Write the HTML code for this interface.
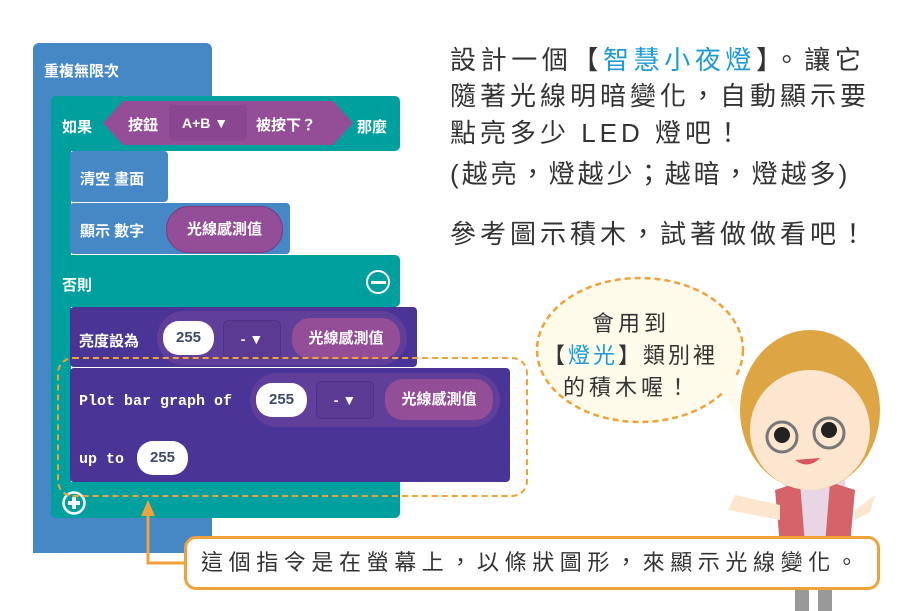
<!DOCTYPE html>
<html><head><meta charset="utf-8"><style>
body{margin:0;width:916px;height:611px;position:relative;background:#fff;overflow:hidden;font-family:"Liberation Sans","Noto Sans CJK TC",sans-serif}
.a{position:absolute}
.w{color:#fff;font-weight:bold;font-size:15px}
.pill{position:absolute;border-radius:18px;color:#fff;font-weight:bold;font-size:15px;text-align:center}
.num{position:absolute;background:#fff;border-radius:16px;color:#3d4a6b;font-weight:bold;font-size:15px;text-align:center}
.t{position:absolute;color:#333;font-size:26px;letter-spacing:4px;white-space:nowrap}
.mono{font-family:"Liberation Mono",monospace;font-weight:bold;font-size:15px;color:#fff}
</style></head><body>
<div class="a" style="left:33px;top:43px;width:179px;height:55px;background:#4687c6;border-radius:6px 6px 0 0"></div>
<div class="a" style="left:33px;top:90px;width:20px;height:463px;background:#4687c6"></div>
<div class="a" style="left:33px;top:515px;width:179px;height:38px;background:#4687c6;border-radius:0 0 4px 4px"></div>
<div class="a w" style="left:44px;top:60px">重複無限次</div>
<div class="a" style="left:51px;top:96px;width:349px;height:55px;background:#00a09e;border-radius:5px"></div>
<div class="a" style="left:51px;top:140px;width:20px;height:370px;background:#00a09e"></div>
<div class="a" style="left:51px;top:255px;width:349px;height:52px;background:#00a09e;border-radius:5px"></div>
<div class="a" style="left:51px;top:482px;width:349px;height:36px;background:#00a09e;border-radius:0 0 5px 5px"></div>
<div class="a w" style="left:62px;top:116px">如果</div>
<svg class="a" style="left:103px;top:100px" width="250" height="46"><polygon points="0,23 20,1 230,1 250,23 230,45 20,45" fill="#944e97"/><rect x="66" y="5" width="78" height="36" rx="5" fill="#8a4690"/></svg>
<div class="a w" style="left:128px;top:114px">按鈕</div>
<div class="a w" style="left:182px;top:115px;font-size:14px">A+B ▼</div>
<div class="a w" style="left:256px;top:114px">被按下？</div>
<div class="a w" style="left:357px;top:116px">那麼</div>
<div class="a" style="left:70px;top:151px;width:98px;height:51px;background:#4687c6;border-radius:4px"></div>
<div class="a w" style="left:80px;top:168px">清空 畫面</div>
<div class="a" style="left:70px;top:203px;width:220px;height:51px;background:#4687c6;border-radius:4px"></div>
<div class="a w" style="left:80px;top:220px">顯示 數字</div>
<div class="pill" style="left:166px;top:206px;width:115px;height:45px;line-height:45px;background:#944e97;border:1px solid #7d3a80;border-radius:23px">光線感測值</div>
<div class="a w" style="left:62px;top:274px">否則</div>
<div class="a" style="left:366px;top:270px;width:20px;height:20px;border:2.5px solid #fff;border-radius:50%"></div>
<div class="a" style="left:371px;top:281px;width:15px;height:3px;background:#fff"></div>
<div class="a" style="left:70px;top:307px;width:347px;height:60px;background:#4a3596;border-radius:4px"></div>
<div class="a" style="left:157px;top:311px;width:250px;height:54px;background:#5f3f9a;border-radius:27px"></div>
<div class="a w" style="left:79px;top:330px">亮度設為</div>
<div class="num" style="left:163px;top:321px;width:51px;height:34px;line-height:34px">255</div>
<div class="a" style="left:223px;top:320px;width:56px;height:36px;background:#5a3a92;border:1px solid #4d3285;border-radius:5px;color:#fff;font-weight:bold;text-align:center;line-height:36px;font-size:14px">- ▼</div>
<div class="pill" style="left:292px;top:318px;width:108px;height:41px;line-height:41px;background:#944e97">光線感測值</div>
<div class="a" style="left:70px;top:368px;width:440px;height:114px;background:#4a3596;border-radius:4px"></div>
<div class="a" style="left:250px;top:373px;width:250px;height:54px;background:#5f3f9a;border-radius:27px"></div>
<div class="a mono" style="left:79px;top:393px">Plot bar graph of</div>
<div class="num" style="left:256px;top:383px;width:51px;height:34px;line-height:34px">255</div>
<div class="a" style="left:316px;top:381px;width:56px;height:36px;background:#5a3a92;border:1px solid #4d3285;border-radius:5px;color:#fff;font-weight:bold;text-align:center;line-height:36px;font-size:14px">- ▼</div>
<div class="pill" style="left:385px;top:379px;width:108px;height:41px;line-height:41px;background:#944e97">光線感測值</div>
<div class="a mono" style="left:79px;top:451px">up to</div>
<div class="num" style="left:137px;top:441px;width:51px;height:34px;line-height:34px">255</div>
<svg class="a" style="left:61px;top:490px" width="26" height="26"><circle cx="13" cy="13" r="10.5" fill="none" stroke="#fff" stroke-width="2.5"/><rect x="7" y="11" width="12" height="4" fill="#fff"/><rect x="11" y="7" width="4" height="12" fill="#fff"/></svg>
<div class="a" style="left:57px;top:357px;width:467px;height:136px;border:2.5px dashed #f0a23a;border-radius:16px"></div>
<svg class="a" style="left:0;top:0" width="916" height="611">
<polyline points="148,508 148,563 186,563" fill="none" stroke="#f0a23a" stroke-width="3"/>
<polygon points="141,516 148,500 155,516" fill="#f0a23a"/>
<ellipse cx="640" cy="350" rx="103" ry="72" fill="#fffbea" stroke="#f0a23a" stroke-width="2.5" stroke-dasharray="6,4"/>
<polygon points="720,385 740,420 735,370" fill="#fffbea"/>
<rect x="795" y="570" width="14" height="41" fill="#999"/><rect x="818" y="570" width="14" height="41" fill="#999"/>
<path d="M785,480 L845,480 L850,585 L780,585 Z" fill="#e9d6e4"/>
<path d="M775,490 L800,482 L805,545 L780,545 Z" fill="#d6636a"/>
<path d="M855,490 L830,482 L825,545 L850,545 Z" fill="#d6636a"/>
<path d="M735,495 L780,505 L780,520 L728,510 Z" fill="#fde6cf"/>
<path d="M855,510 L875,495 L870,512 L855,520 Z" fill="#fde6cf"/>
<ellipse cx="810" cy="410" rx="70" ry="80" fill="#dea642"/>
<ellipse cx="810" cy="430" rx="60" ry="60" fill="#fde6cf"/>
<path d="M745,400 Q810,320 878,400 L870,370 Q810,310 750,370 Z" fill="#dea642"/>
<circle cx="782" cy="435" r="8" fill="#222"/><circle cx="829" cy="430" r="8" fill="#222"/>
<circle cx="782" cy="437" r="15" fill="none" stroke="#777" stroke-width="3"/><circle cx="829" cy="433" r="15" fill="none" stroke="#777" stroke-width="3"/>
<path d="M795,460 Q808,470 820,458 Z" fill="#d8545f"/>
</svg>
<div class="a" style="left:592px;top:306px;font-size:22px;color:#333;letter-spacing:4px">會用到</div>
<div class="a" style="left:543px;top:338px;font-size:22px;color:#333;white-space:nowrap;letter-spacing:3px">【<span style="color:#1a9ad6">燈光</span>】類別裡</div>
<div class="a" style="left:563px;top:370px;font-size:22px;color:#333;letter-spacing:4px">的積木喔！</div>
<div class="a" style="left:184px;top:536px;width:696px;height:54px;border:3px solid #f0a23a;border-radius:12px;background:#fff;font-size:22px;color:#333;line-height:48px;padding-left:14px;box-sizing:border-box;letter-spacing:5.6px;white-space:nowrap">這個指令是在螢幕上，以條狀圖形，來顯示光線變化。</div>
<div class="t" style="left:450px;top:40px;letter-spacing:4.6px">設計一個【<span style="color:#1a9ad6">智慧小夜燈</span>】。讓它</div>
<div class="t" style="left:450px;top:76px">隨著光線明暗變化，自動顯示要</div>
<div class="t" style="left:450px;top:113px">點亮多少 LED 燈吧！</div>
<div class="t" style="left:450px;top:154px;letter-spacing:3px">(越亮，燈越少；越暗，燈越多)</div>
<div class="t" style="left:450px;top:214px">參考圖示積木，試著做做看吧！</div>
</body></html>
